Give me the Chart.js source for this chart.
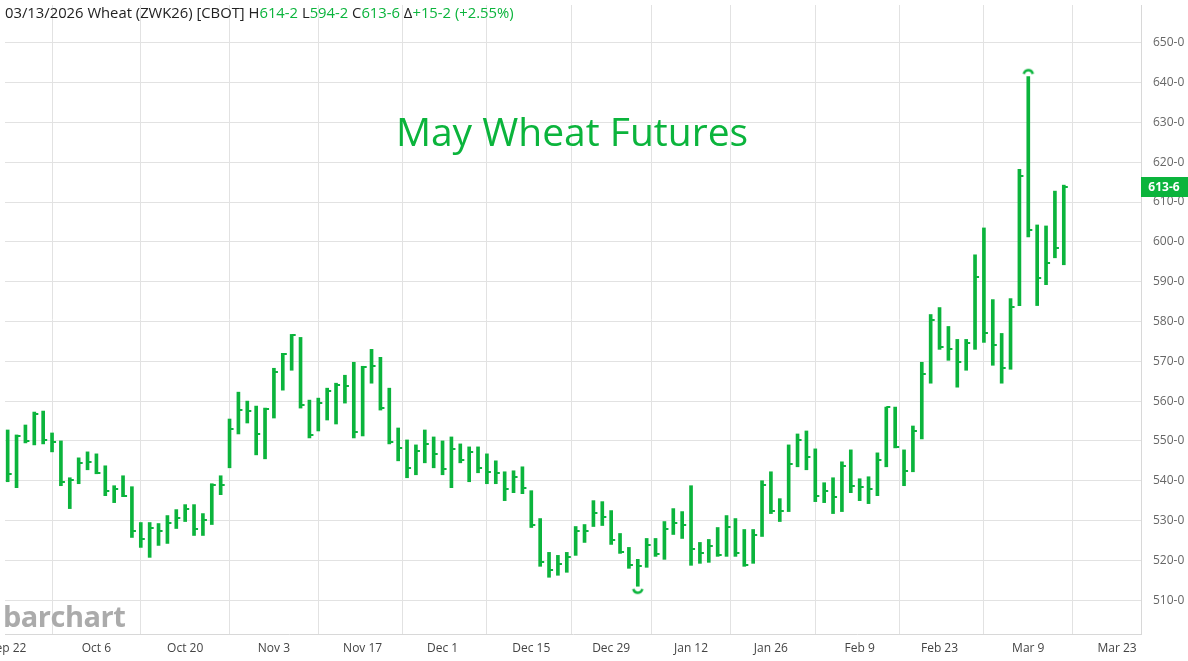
<!DOCTYPE html>
<html lang="en">
<head>
<meta charset="UTF-8">
<title>May Wheat Futures</title>
<script src="https://cdn.jsdelivr.net/npm/chart.js"></script>
<style>
  html, body { margin: 0; padding: 0; background: #fff; }
  .wrap { position: relative; width: 1188px; height: 661px; font-family: "Open Sans", sans-serif; }
  canvas { display: block; }
  #header { position: absolute; left: 5px; top: 2px; font-size: 14.8px; line-height: 20px; color: #222; white-space: pre; }
  #header .g { color: #0bb43c; }
  #title { position: absolute; left: 0; width: 1144px; top: 106px; text-align: center; font-size: 39px; line-height: 50px; color: #0bb43c; }
  #logo { position: absolute; left: 3px; top: 598px; font-size: 29px; line-height: 36px; font-weight: bold; color: #ababab; letter-spacing: -0.5px; }
</style>
</head>
<body>
<div class="wrap">
  <canvas id="wheat" width="1188" height="661"></canvas>
  <div id="header">03/13/2026 Wheat (ZWK26) [CBOT] H<span class="g">614-2</span> L<span class="g">594-2</span> C<span class="g">613-6</span> Δ<span class="g">+15-2 (+2.55%)</span></div>
  <div id="title">May Wheat Futures</div>
  <div id="logo">barchart</div>
</div>
<script>
const GREEN = '#0bb43c';

// daily HLC bars, Sep 22 2025 .. Mar 13 2026 (trading days)
const highs = [
  552.75, 551.5, 554, 557.25, 557.5, 552, 550, 540.75, 545.75, 547.25,
  546.75, 543.75, 538.75, 541.25, 538.5, 529.5, 529.5, 529.25, 531.25, 532.75,
  534, 534, 531.75, 539.25, 541.25, 555.5, 562.25, 560, 558.75, 558.25,
  568.25, 572, 576.75, 576, 560.25, 560.75, 563.25, 564.5, 566.5, 569.75,
  568.75, 573, 571, 563.25, 553.25, 550.25, 549, 552.75, 551, 550,
  551, 549.25, 548.5, 548.5, 546.75, 545, 542.25, 542.5, 543.5, 537.5,
  530.5, 522, 521.25, 522, 528.5, 529, 535, 534.75, 532.5, 526.75,
  523.25, 520.25, 525.5, 525.5, 529.75, 533, 532.25, 538.75, 524.5, 525.25,
  528.25, 531.25, 530.5, 527.75, 527.75, 540, 542.25, 535.5, 549, 551.75,
  552.5, 548, 539.5, 540.75, 544.75, 547.75, 540.5, 541, 547, 558.5,
  558.5, 547.75, 553.75, 569.75, 581.75, 583.5, 578.75, 575.5, 575.5, 596.75,
  603.5, 585.5, 577, 585.75, 618.25, 641.5, 604.25, 604, 612.75, 614.25
];
const lows = [
  539.75, 538.25, 549.5, 549, 549.25, 547.25, 538.75, 533, 539.25, 542.75,
  541.75, 536.25, 534.5, 536, 525.75, 523.25, 520.75, 523.75, 524.25, 528,
  529.75, 526.25, 526.25, 529, 536.5, 543.25, 551.75, 554.5, 546.5, 545.5,
  555.75, 562.75, 567.75, 558.25, 550.75, 552.5, 555.25, 554.25, 559.5, 550.75,
  551.25, 564.5, 557.75, 549.25, 545, 540.75, 541.5, 544.5, 543.25, 541.5,
  538.25, 544.5, 539.75, 542, 539.25, 539.25, 535, 537, 536.75, 528.25,
  518.5, 515.75, 516.25, 517, 521.25, 524.5, 528.5, 528.75, 524, 521.75,
  518, 513.5, 518.25, 521, 520.25, 526.5, 525.5, 518.75, 519.25, 519.5,
  521, 521, 521, 518.5, 519.25, 526, 531.75, 529.75, 532.25, 543.5,
  542.75, 534.75, 534.5, 531.75, 532.25, 537, 535, 534.25, 536.25, 543.5,
  548.25, 538.75, 542.25, 550.5, 564.5, 573, 570.25, 563.5, 567.75, 573,
  574.75, 569, 564.5, 568, 584, 601.25, 584, 589.25, 596, 594.25
];
const closes = [
  541.75, 551.25, 550, 556.75, 550.25, 549.75, 539.75, 540.25, 544.5, 544.75,
  542, 537.5, 538, 536.25, 527.25, 525.25, 528.25, 527.25, 529.5, 530.75,
  533, 527.75, 530.25, 539, 539, 553, 557.75, 557.5, 551.75, 558,
  567.25, 571.75, 576.5, 559, 551.5, 559.5, 562.5, 564, 563.75, 552.25,
  568.5, 568.75, 558.25, 549.75, 548.25, 543.25, 547.5, 549.25, 546.75, 543,
  548, 545.25, 547.25, 543.25, 542.25, 542, 538, 541, 538.25, 529,
  519.5, 517.5, 519, 520.75, 527.25, 527.25, 532, 531, 525, 522,
  518.75, 518.5, 523.75, 521.5, 528, 529.5, 529, 522.75, 521.75, 523.5,
  521.25, 528.5, 521.75, 518.75, 526.25, 539, 532.5, 532.5, 544.25, 550.25,
  546, 536.25, 537.5, 536, 543.75, 538.75, 538.5, 538, 545.25, 558.5,
  548.5, 542.5, 552.5, 566.75, 580.25, 573.5, 573, 569.75, 574.5, 591.25,
  577, 574, 568.25, 583.75, 616.5, 603, 591, 594.75, 598.5, 613.75
];

// x axis: trading-day index of each labelled date
const xTickPos = [0, 10, 20, 30, 40, 49, 59, 68, 77, 86, 96, 105, 115, 125];
const xTickLabels = ['Sep 22', 'Oct 6', 'Oct 20', 'Nov 3', 'Nov 17', 'Dec 1', 'Dec 15',
  'Dec 29', 'Jan 12', 'Jan 26', 'Feb 9', 'Feb 23', 'Mar 9', 'Mar 23'];
const yTicks = [510, 520, 530, 540, 550, 560, 570, 580, 590, 600, 610, 620, 630, 640, 650];

// price in eighths, e.g. 613.75 -> "613-6"
function fmt(v) {
  const w = Math.floor(v);
  return w + '-' + Math.round((v - w) * 8);
}

// little right-hand close tick
function closeTick() {
  const c = document.createElement('canvas');
  c.width = 10; c.height = 2;
  const g = c.getContext('2d');
  g.fillStyle = GREEN;
  g.fillRect(5, 0, 4, 2);
  return c;
}

// arc marks for the highest high / lowest low
function arcMark(up) {
  const c = document.createElement('canvas');
  c.width = 14; c.height = 20;
  const g = c.getContext('2d');
  g.strokeStyle = GREEN;
  g.lineWidth = 2.5;
  g.beginPath();
  if (up) g.arc(7, 8, 4.5, Math.PI * 1.05, Math.PI * 1.95);
  else g.arc(7, 12, 4.5, Math.PI * 0.05, Math.PI * 0.95);
  g.stroke();
  return c;
}

const hiIdx = highs.indexOf(Math.max(...highs));
const loIdx = lows.indexOf(Math.min(...lows));

// no extra room for overhanging tick labels, the plot runs to the edges
function noPad(s) {
  s.paddingLeft = 0; s.paddingRight = 0;
  s.paddingTop = 0; s.paddingBottom = 0;
}

const lastLabel = {
  id: 'lastLabel',
  afterDraw(chart) {
    const ctx = chart.ctx;
    const last = closes[closes.length - 1];
    const y = Math.round(chart.scales.y.getPixelForValue(last));
    const left = chart.chartArea.right;
    ctx.save();
    ctx.fillStyle = GREEN;
    ctx.fillRect(left, y - 10, 47, 20);
    ctx.fillStyle = '#fff';
    ctx.font = 'bold 12px "Open Sans"';
    ctx.textAlign = 'center';
    ctx.textBaseline = 'middle';
    ctx.fillText(fmt(last), left + 23, y + 1);
    ctx.restore();
  }
};

const ctx = document.getElementById('wheat').getContext('2d');
new Chart(ctx, {
  type: 'bar',
  data: {
    datasets: [
      {
        type: 'line',
        data: closes.map((c, i) => ({ x: i, y: c })),
        showLine: false,
        pointStyle: closeTick(),
        pointRadius: 3,
        order: 0
      },
      {
        type: 'line',
        data: [{ x: hiIdx, y: highs[hiIdx] }],
        showLine: false,
        pointStyle: arcMark(true),
        order: 0
      },
      {
        type: 'line',
        data: [{ x: loIdx, y: lows[loIdx] }],
        showLine: false,
        pointStyle: arcMark(false),
        order: 0
      },
      {
        type: 'bar',
        data: highs.map((h, i) => ({ x: i, y: [lows[i], h] })),
        backgroundColor: GREEN,
        borderWidth: 0,
        barThickness: 3,
        grouped: false,
        order: 1
      }
    ]
  },
  options: {
    responsive: false,
    animation: false,
    events: [],
    layout: { padding: 0 },
    plugins: { legend: { display: false }, tooltip: { enabled: false } },
    scales: {
      x: {
        type: 'linear',
        min: -0.3,
        max: 127.7,
        offset: false,
        afterBuildTicks: s => { s.ticks = xTickPos.map(v => ({ value: v })); },
        afterFit: s => { s.height = 27; noPad(s); },
        ticks: {
          callback: (v, i) => xTickLabels[i],
          color: '#444',
          font: { size: 12, family: '"Open Sans"' },
          maxRotation: 0,
          autoSkip: false,
          padding: 7
        },
        grid: { color: '#e2e2e2', drawTicks: false },
        border: { color: '#d8d8d8' }
      },
      y: {
        position: 'right',
        min: 501.5,
        max: 659.5,
        afterBuildTicks: s => { s.ticks = yTicks.map(v => ({ value: v })); },
        afterFit: s => { s.width = 47; noPad(s); },
        ticks: {
          callback: v => fmt(v),
          color: '#666',
          font: { size: 12, family: '"Open Sans"' },
          padding: 12
        },
        grid: { color: '#e2e2e2', drawTicks: false },
        border: { color: '#d8d8d8' }
      }
    }
  },
  plugins: [lastLabel]
});
</script>
</body>
</html>
